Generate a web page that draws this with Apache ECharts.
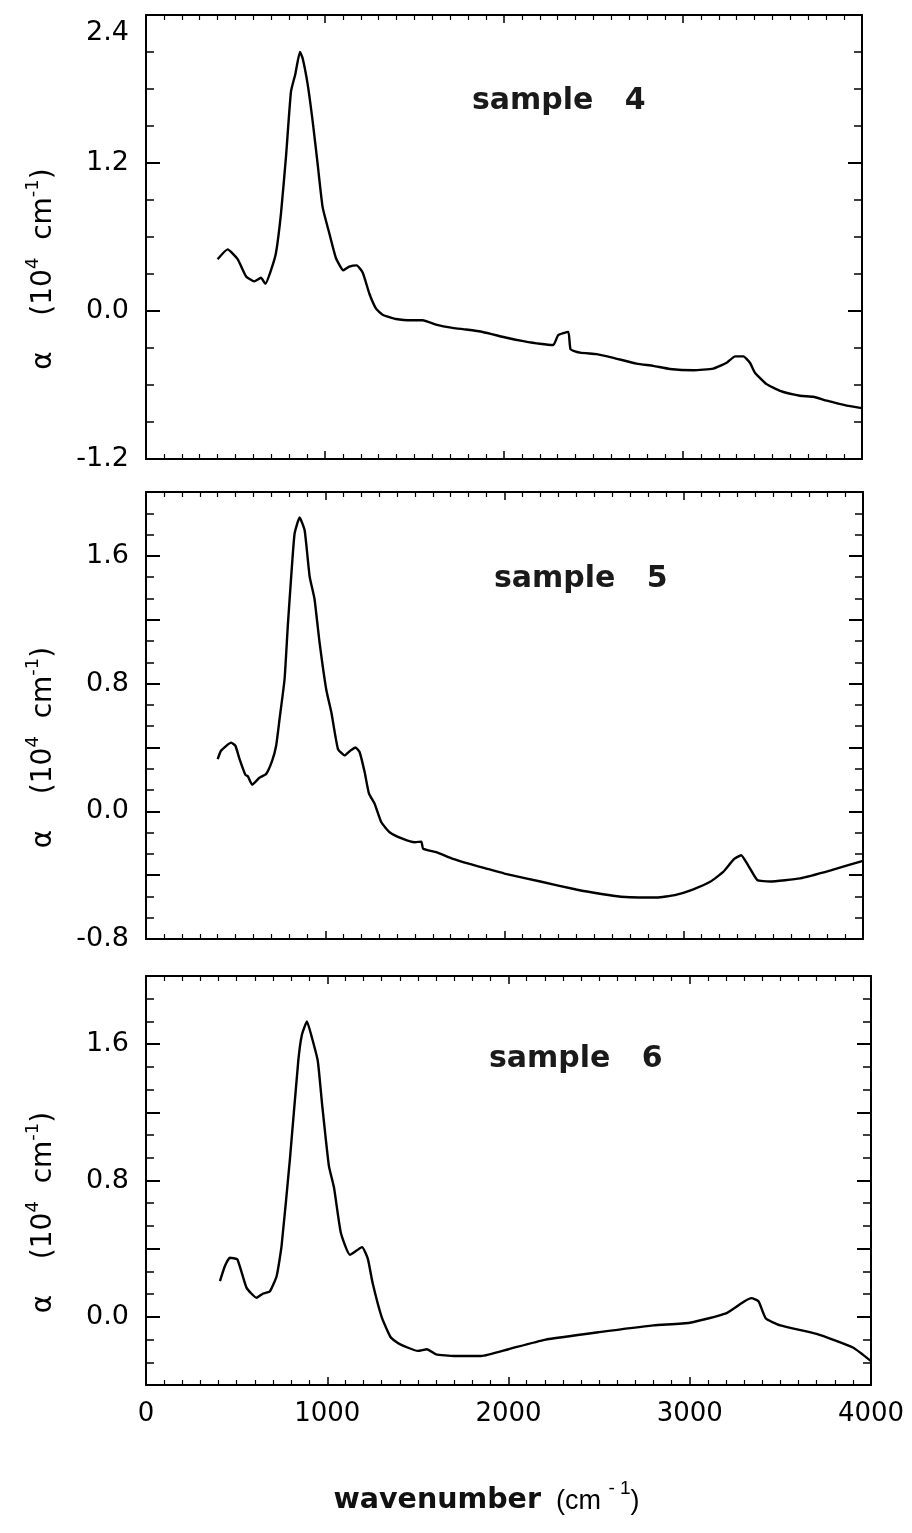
<!DOCTYPE html>
<html>
<head>
<meta charset="utf-8">
<script src="https://cdn.jsdelivr.net/npm/echarts@6/dist/echarts.min.js"></script>
<style>
html,body{margin:0;padding:0;background:#fff;}
#chart{width:912px;height:1533px;}
</style>
</head>
<body>
<div id="chart"></div>
<script>
// ---- data ----
const wavenumber4 = [400,456,512,559,605,642,667,698,726,754,782,810,834,860,875,903,931,959,987,1024,1061,1102,1136,1177,1211,1248,1285,1322,1397,1490,1546,1620,1713,1788,1881,2015,2108,2201,2275,2303,2359,2372,2425,2518,2611,2741,2834,2927,3058,3169,3244,3291,3337,3374,3402,3467,3542,3654,3728,3803,3915,3998];
const alpha4 = [0.42,0.50,0.42,0.28,0.24,0.27,0.22,0.33,0.47,0.79,1.25,1.78,1.92,2.10,2.05,1.84,1.54,1.19,0.84,0.63,0.43,0.33,0.36,0.37,0.31,0.14,0.02,-0.03,-0.065,-0.075,-0.075,-0.11,-0.137,-0.15,-0.17,-0.217,-0.244,-0.266,-0.276,-0.196,-0.169,-0.31,-0.338,-0.35,-0.38,-0.427,-0.445,-0.47,-0.48,-0.467,-0.42,-0.368,-0.368,-0.42,-0.50,-0.593,-0.647,-0.687,-0.695,-0.727,-0.767,-0.787];

const wavenumber5 = [400,419,475,499,521,555,568,592,633,670,704,726,745,773,791,810,829,857,885,913,940,968,1006,1034,1071,1108,1140,1169,1192,1220,1244,1276,1313,1359,1434,1499,1536,1546,1620,1713,1806,1890,2000,2200,2400,2550,2650,2750,2850,2950,3050,3150,3220,3280,3320,3360,3410,3480,3650,3820,4000];
const alpha5 = [0.327,0.38,0.43,0.41,0.33,0.227,0.22,0.167,0.21,0.233,0.317,0.41,0.577,0.827,1.16,1.47,1.74,1.84,1.76,1.47,1.33,1.06,0.76,0.62,0.39,0.35,0.38,0.40,0.37,0.244,0.11,0.046,-0.069,-0.131,-0.173,-0.194,-0.19,-0.235,-0.256,-0.298,-0.33,-0.356,-0.39,-0.44,-0.49,-0.52,-0.535,-0.54,-0.54,-0.525,-0.49,-0.44,-0.38,-0.30,-0.275,-0.34,-0.43,-0.44,-0.42,-0.37,-0.31];

const wavenumber6 = [408,436,463,504,555,610,647,684,721,748,794,840,860,888,916,948,972,1009,1037,1075,1125,1192,1224,1250,1300,1350,1400,1500,1550,1600,1700,1850,2000,2200,2500,2800,3000,3200,3300,3340,3380,3420,3500,3700,3900,4000];
const alpha6 = [0.21,0.30,0.347,0.337,0.17,0.112,0.137,0.15,0.24,0.416,0.925,1.5,1.654,1.734,1.636,1.50,1.243,0.886,0.76,0.493,0.364,0.409,0.34,0.2,0.0,-0.12,-0.16,-0.2,-0.19,-0.22,-0.23,-0.23,-0.19,-0.135,-0.09,-0.05,-0.035,0.02,0.09,0.11,0.09,-0.01,-0.05,-0.1,-0.18,-0.26];

const xTickLabels = ['0','1000','2000','3000','4000'];
const yTickLabels = [['-1.2','0.0','1.2','2.4'], ['-0.8','0.0','0.8','1.6'], ['0.0','0.8','1.6']];
const yRanges = [[-1.2, 2.4], [-0.8, 2.0], [-0.4, 2.0]];
const yMajorStep = [1.2, 0.4, 0.4];
const yMinorSplit = [4, 3, 3];
const panelTitles = ['sample   4', 'sample   5', 'sample   6'];
const xRange = [0, 4000];

// ---- layout ----
const grids = [
  {left:146, top:15, width:716, height:444},
  {left:146, top:492, width:717, height:447},
  {left:146, top:976, width:725, height:409}
];
const titlePos = [{left:472, top:86}, {left:494, top:564}, {left:489, top:1044}];

const FONT = 'DejaVu Sans';
const series = [];
const xAxes = [];
const yAxes = [];
const wns = [wavenumber4, wavenumber5, wavenumber6];
const als = [alpha4, alpha5, alpha6];

function xAxisCfg(p, pos) {
  const showLabel = (pos === 'bottom' && p === 2);
  const cfg = {
    type:'value', gridIndex:p, position:pos, min:xRange[0], max:xRange[1], interval:1000,
    axisLine:{show:true, onZero:false, lineStyle:{color:'#000', width:2}},
    axisTick:{show:true, inside:true, length:8, lineStyle:{color:'#000', width:1.5}},
    minorTick:{show:true, splitNumber:10, length:5, lineStyle:{color:'#000', width:1.2}},
    splitLine:{show:false}, minorSplitLine:{show:false},
    axisLabel:{show:showLabel, margin:16, color:'#000', fontFamily:FONT, fontSize:26,
      formatter: v => { const s = String(Math.round(v)); return xTickLabels.includes(s) ? s : ''; }}
  };
  if (showLabel) {
    cfg.name = '{b|wavenumber}{n|  (cm }{s|- 1}{n|)}';
    cfg.nameLocation = 'middle';
    cfg.nameGap = 94;
    cfg.nameTextStyle = {
      padding:[0,44,0,0],
      rich:{
        b:{fontFamily:FONT, fontWeight:'bold', fontSize:28.5, color:'#111', lineHeight:36, verticalAlign:'bottom'},
        n:{fontFamily:'Liberation Sans', fontSize:27, color:'#000', lineHeight:36, verticalAlign:'bottom'},
        s:{fontFamily:'Liberation Sans', fontSize:19, color:'#000', lineHeight:36, verticalAlign:'top'}
      }
    };
  }
  return cfg;
}

function yAxisCfg(p, pos) {
  const left = pos === 'left';
  const maxV = yRanges[p][1];
  const cfg = {
    type:'value', gridIndex:p, position:pos, min:yRanges[p][0], max:maxV, interval:yMajorStep[p],
    axisLine:{show:true, onZero:false, lineStyle:{color:'#000', width:2}},
    axisTick:{show:true, inside:true, length:14, lineStyle:{color:'#000', width:2}},
    minorTick:{show:true, splitNumber:yMinorSplit[p], length:8, lineStyle:{color:'#000', width:1.5}},
    splitLine:{show:false}, minorSplitLine:{show:false},
    axisLabel:{show:left, margin:17, color:'#000', fontFamily:FONT, fontSize:27,
      showMinLabel:true, showMaxLabel:true,
      formatter: v => {
        const s = (Math.abs(v) < 1e-9 ? 0 : v).toFixed(1);
        if (!yTickLabels[p].includes(s)) return '';
        if (Math.abs(v - maxV) < 1e-9) return '{low|' + s + '}';
        return s;
      },
      rich:{low:{fontFamily:FONT, fontSize:27, color:'#000', padding:[36,0,0,0]}}
    }
  };
  if (left) {
    cfg.name = '{n|α    (10}{s|4}{n|  cm}{s|-1}{n|)}';
    cfg.nameLocation = 'middle';
    cfg.nameRotate = 90;
    cfg.nameGap = 88;
    cfg.nameTextStyle = {
      padding:[0,64,0,0],
      rich:{
        n:{fontFamily:FONT, fontSize:28, color:'#000', lineHeight:34, verticalAlign:'bottom'},
        s:{fontFamily:FONT, fontSize:18, color:'#000', lineHeight:34, verticalAlign:'top'}
      }
    };
  }
  return cfg;
}

for (let p = 0; p < 3; p++) {
  xAxes.push(xAxisCfg(p, 'bottom'));
  xAxes.push(xAxisCfg(p, 'top'));
  yAxes.push(yAxisCfg(p, 'left'));
  yAxes.push(yAxisCfg(p, 'right'));
  series.push({
    type:'line', xAxisIndex:p*2, yAxisIndex:p*2, showSymbol:false, symbol:'none',
    smooth:0.15, silent:true, animation:false,
    lineStyle:{color:'#000', width:2.4},
    data: wns[p].map((x, i) => [x, als[p][i]])
  });
}

const titles = panelTitles.map((t, p) => ({
  text:t, left:titlePos[p].left, top:titlePos[p].top, padding:0,
  textStyle:{fontFamily:FONT, fontWeight:'bold', fontSize:30, color:'#1a1a1a'}
}));

const chart = echarts.init(document.getElementById('chart'), null, {renderer:'canvas'});
chart.setOption({
  animation:false,
  backgroundColor:'#fff',
  title: titles,
  grid: grids.map(g => Object.assign({containLabel:false}, g)),
  xAxis: xAxes,
  yAxis: yAxes,
  series: series
});
</script>
</body>
</html>
